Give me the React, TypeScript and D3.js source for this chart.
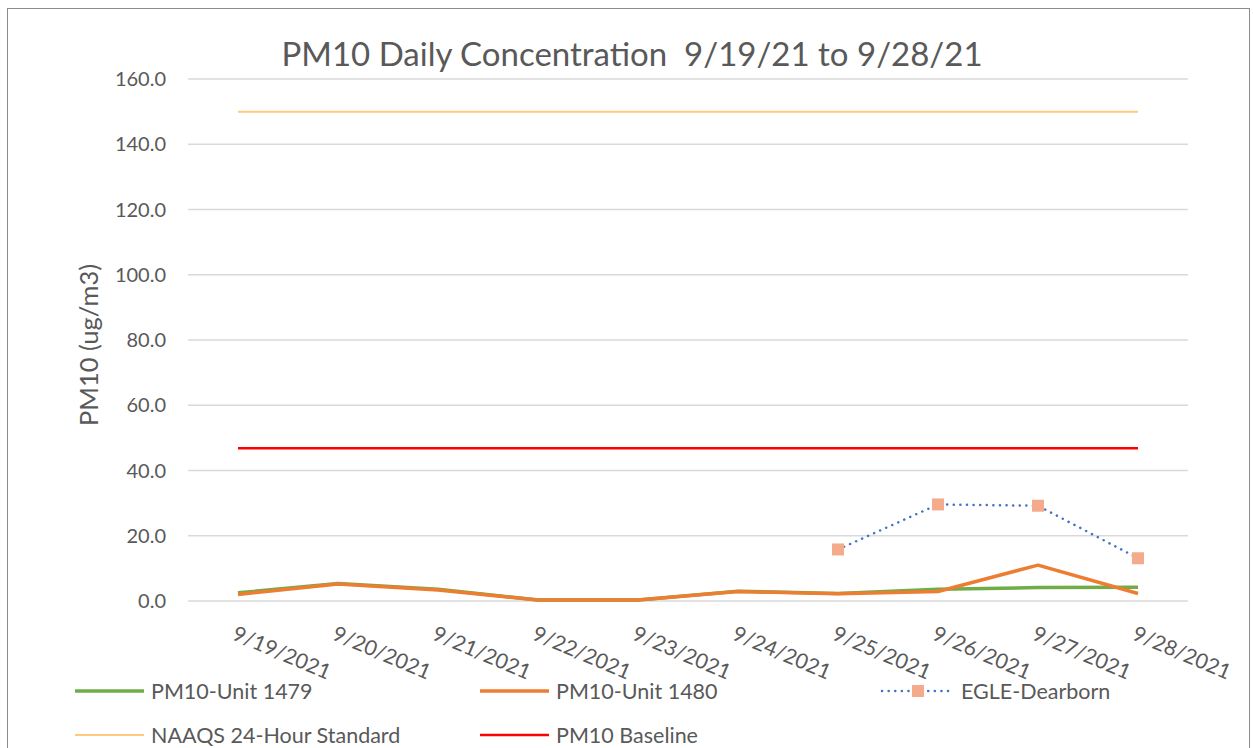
import React from 'react';
import * as d3 from 'd3';

const dates = ['9/19/2021', '9/20/2021', '9/21/2021', '9/22/2021', '9/23/2021', '9/24/2021', '9/25/2021', '9/26/2021', '9/27/2021', '9/28/2021'];
const unit1479 = [2.5, 5.4, 3.6, 0.3, 0.3, 3.0, 2.3, 3.6, 4.1, 4.2];
const unit1480 = [2.0, 5.2, 3.4, 0.3, 0.3, 2.9, 2.2, 2.9, 11.0, 2.3];
const egle = [null, null, null, null, null, null, 15.8, 29.6, 29.2, 13.1];
const naaqs = [150, 150, 150, 150, 150, 150, 150, 150, 150, 150];
const baseline = [46.8, 46.8, 46.8, 46.8, 46.8, 46.8, 46.8, 46.8, 46.8, 46.8];
const yTicks = [0, 20, 40, 60, 80, 100, 120, 140, 160];

const W = 1253;
const H = 748;
const font = 'Lato, "Open Sans", sans-serif';
const textColor = '#595959';

export default function App() {
  // plot area
  const left = 188, right = 1188, top = 79, bottom = 601;

  const x = d3.scaleBand<string>().domain(dates).range([left, right]);
  const y = d3.scaleLinear().domain([0, 160]).range([bottom, top]);
  const cx = (d: string) => (x(d) as number) + x.bandwidth() / 2;

  const line = d3.line<number | null>()
    .defined(v => v != null)
    .x((_, i) => cx(dates[i]))
    .y(v => y(v as number));

  const legendItems = [
    { label: 'PM10-Unit 1479', color: '#70ad47', w: 3.5, col: 0, row: 0 },
    { label: 'PM10-Unit 1480', color: '#ed7d31', w: 3.5, col: 1, row: 0 },
    { label: 'EGLE-Dearborn', color: '#4472c4', w: 2.5, col: 2, row: 0, dotted: true },
    { label: 'NAAQS 24-Hour Standard', color: '#ffca7c', w: 2, col: 0, row: 1 },
    { label: 'PM10 Baseline', color: '#ff0000', w: 2.5, col: 1, row: 1 },
  ];
  const legendX = [75, 480, 882];
  const legendY = [691, 735];

  return (
    <svg width={W} height={H} style={{ position: 'absolute', left: 0, top: 0, fontFamily: font }}>
      <rect x={0} y={0} width={W} height={H} fill="#fff" />
      <rect x={7.5} y={8.5} width={1242} height={760} fill="#fff" stroke="#8c8c8c" strokeWidth={1} />

      <text x={632} y={66} textAnchor="middle" fontSize={33} fill={textColor} style={{ whiteSpace: 'pre' }}>
        {'PM10 Daily Concentration  9/19/21 to 9/28/21'}
      </text>

      {yTicks.map(t => (
        <g key={t}>
          <line x1={left} x2={right} y1={y(t)} y2={y(t)} stroke="#d9d9d9" strokeWidth={1.5} />
          <text x={166} y={y(t)} dy="0.35em" textAnchor="end" fontSize={20} fill={textColor}>
            {t.toFixed(1)}
          </text>
        </g>
      ))}

      <text transform={`translate(98, 345) rotate(-90)`} textAnchor="middle" fontSize={25.5} fill={textColor}>
        PM10 (ug/m3)
      </text>

      {dates.map(d => (
        <text key={d} transform={`translate(${cx(d) - 7}, ${639}) rotate(23)`} fontSize={21} fill={textColor}>
          {d}
        </text>
      ))}

      <path d={line(naaqs) || ''} fill="none" stroke="#ffca7c" strokeWidth={2} />
      <path d={line(baseline) || ''} fill="none" stroke="#ff0000" strokeWidth={2.5} />
      <path d={line(unit1479) || ''} fill="none" stroke="#70ad47" strokeWidth={3.5} strokeLinejoin="round" />
      <path d={line(unit1480) || ''} fill="none" stroke="#ed7d31" strokeWidth={3.5} strokeLinejoin="round" />
      <path d={line(egle) || ''} fill="none" stroke="#4472c4" strokeWidth={2.5} strokeDasharray="0.1 6.5" strokeLinecap="round" />
      {egle.map((v, i) => v == null ? null : (
        <rect key={i} x={cx(dates[i]) - 6} y={y(v) - 6} width={12} height={12} fill="#f4ab8c" />
      ))}

      {legendItems.map(it => {
        const lx = legendX[it.col];
        const ly = legendY[it.row];
        const lw = it.dotted ? 68 : 69;
        return (
          <g key={it.label}>
            <line x1={lx} x2={lx + lw} y1={ly} y2={ly} stroke={it.color} strokeWidth={it.w}
              strokeDasharray={it.dotted ? '0.1 6.5' : undefined} strokeLinecap={it.dotted ? 'round' : 'butt'} />
            {it.dotted && <rect x={lx + 30} y={ly - 6} width={12} height={12} fill="#f4ab8c" />}
            <text x={lx + lw + (it.dotted ? 11 : 7)} y={ly} dy="0.35em" fontSize={21.5} fill={textColor}>
              {it.label}
            </text>
          </g>
        );
      })}
    </svg>
  );
}
